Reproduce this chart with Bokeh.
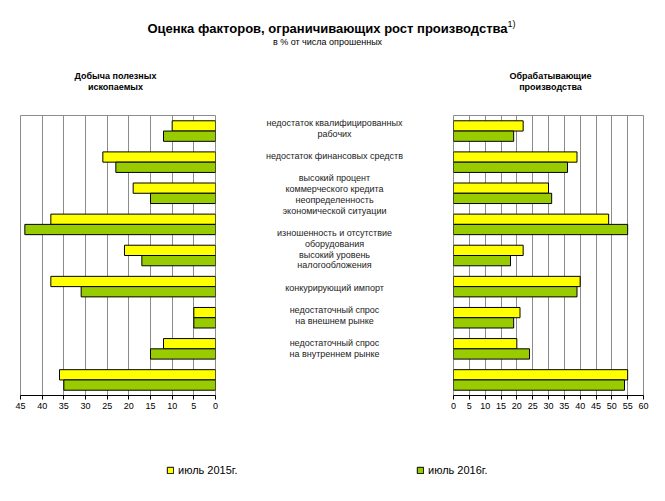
from bokeh.plotting import figure
from bokeh.layouts import column, row
from bokeh.models import Range1d, FixedTicker, Legend, LegendItem, ColumnDataSource
from bokeh.core.properties import value
from bokeh.embed import file_html
from bokeh.resources import INLINE

# ---------------- data ----------------
groups = list(range(9))
mining_2015 = [10, 26, 19, 38, 21, 38, 5, 12, 36]
mining_2016 = [12, 23, 15, 44, 17, 31, 5, 15, 35]
manuf_2015 = [22, 39, 30, 49, 22, 40, 21, 20, 55]
manuf_2016 = [19, 36, 31, 55, 18, 39, 19, 24, 54]
series_names = ["июль 2015г.", "июль 2016г."]
factor_lines = [
    "недостаток квалифицированных", "рабочих",
    "недостаток финансовых средств",
    "высокий процент", "коммерческого кредита",
    "неопределенность", "экономической ситуации",
    "изношенность и отсутствие", "оборудования",
    "высокий уровень", "налогообложения",
    "конкурирующий импорт",
    "недостаточный спрос", "на внешнем рынке",
    "недостаточный спрос", "на внутреннем рынке",
]
left_ticks = list(range(0, 50, 5))
right_ticks = list(range(0, 65, 5))
title_text = "Оценка факторов, ограничивающих рост производства"
subtitle_text = "в % от числа опрошенных"
left_header = ["Добыча полезных", "ископаемых"]
right_header = ["Обрабатывающие", "производства"]

# ---------------- styling ----------------
FONT = "Liberation Sans"
YELLOW = "#FFFF00"
GREEN = "#99CC00"
GRID = "#8c8c8c"
BAR_H = 0.33

# label line vertical positions (page px) -> layout only
label_px = [122.7, 133.3, 155, 177.3, 188.3, 199, 210, 232, 243.3, 254, 264.7,
            287.3, 309.3, 320.3, 342.3, 353.3]
FRAME_TOP = 115.0
FRAME_H = 280.0
GROUP_PX = FRAME_H / 9.0

yr = Range1d(9, 0)
ROW_H = 307
TOP_B = 2
BOT_B = ROW_H - TOP_B - FRAME_H


def bar_fig(width, xr, ticks, bl, br, v15, v16):
    p = figure(width=width, height=ROW_H, x_range=xr, y_range=yr,
               output_backend="svg", toolbar_location=None,
               min_border_left=bl, min_border_right=br,
               min_border_top=TOP_B, min_border_bottom=int(BOT_B))
    p.yaxis.visible = False
    p.ygrid.visible = False
    p.xgrid.ticker = FixedTicker(ticks=ticks)
    p.xgrid.grid_line_color = GRID
    p.xgrid.grid_line_width = 1
    p.xaxis.ticker = FixedTicker(ticks=ticks)
    p.xaxis.minor_tick_line_color = None
    p.xaxis.major_tick_in = 0
    p.xaxis.major_tick_out = 4
    p.xaxis.axis_line_color = "black"
    p.xaxis.major_tick_line_color = "black"
    p.xaxis.major_label_text_font = FONT
    p.xaxis.major_label_text_font_size = "9px"
    p.xaxis.major_label_text_color = "black"
    p.xaxis.major_label_standoff = 3
    p.outline_line_color = GRID
    p.background_fill_color = "white"
    p.border_fill_color = "white"
    src = ColumnDataSource(dict(
        y15=[g + 0.5 - BAR_H / 2 for g in groups],
        y16=[g + 0.5 + BAR_H / 2 for g in groups],
        v15=v15, v16=v16))
    p.hbar(y="y15", right="v15", left=0, height=BAR_H, source=src,
           fill_color=YELLOW, line_color="black", line_width=1)
    p.hbar(y="y16", right="v16", left=0, height=BAR_H, source=src,
           fill_color=GREEN, line_color="black", line_width=1)
    return p


left = bar_fig(225, Range1d(45, 0), left_ticks, 20, 10, mining_2015, mining_2016)
right = bar_fig(214, Range1d(0, 60), right_ticks, 10, 14, manuf_2015, manuf_2016)

# middle labels
mid = figure(width=218, height=ROW_H, x_range=Range1d(0, 218), y_range=yr,
             output_backend="svg", toolbar_location=None,
             min_border_left=0, min_border_right=0,
             min_border_top=TOP_B, min_border_bottom=int(BOT_B))
mid.axis.visible = False
mid.grid.visible = False
mid.outline_line_color = None
mid.text(x=[109] * len(factor_lines),
         y=[(py - FRAME_TOP) / GROUP_PX for py in label_px],
         text=factor_lines, text_align="center", text_baseline="middle",
         text_font=value(FONT), text_font_size="9px", text_color="#222222")

# header (page coordinates)
header = figure(width=657, height=113, x_range=Range1d(0, 657), y_range=Range1d(113, 0),
                output_backend="svg", toolbar_location=None,
                min_border=0)
header.axis.visible = False
header.grid.visible = False
header.outline_line_color = None
header.text(x=[327], y=[28], text=[title_text], text_align="center",
            text_baseline="middle", text_font=value(FONT), text_font_size="13px",
            text_font_style="bold", text_color="black")
header.text(x=[507], y=[23], text=["1)"], text_align="left",
            text_baseline="middle", text_font=value(FONT), text_font_size="9px",
            text_color="black")
header.text(x=[327], y=[41], text=[subtitle_text], text_align="center",
            text_baseline="middle", text_font=value(FONT), text_font_size="9px",
            text_color="black")
header.text(x=[115, 115], y=[75, 86], text=left_header, text_align="center",
            text_baseline="middle", text_font=value(FONT), text_font_size="9px",
            text_font_style="bold", text_color="black")
header.text(x=[550, 550], y=[75, 86], text=right_header, text_align="center",
            text_baseline="middle", text_font=value(FONT), text_font_size="9px",
            text_font_style="bold", text_color="black")

# footer with legend
footer = figure(width=657, height=73, x_range=Range1d(0, 1), y_range=Range1d(0, 1),
                output_backend="svg", toolbar_location=None, min_border=0)
footer.axis.visible = False
footer.grid.visible = False
footer.outline_line_color = None
r15 = footer.rect(x=[-10], y=[-10], width=1, height=1, fill_color=YELLOW, line_color="black")
r16 = footer.rect(x=[-10], y=[-10], width=1, height=1, fill_color=GREEN, line_color="black")
for r, name, loc in [(r15, series_names[0], (166, 17)), (r16, series_names[1], (416, 17))]:
    lg = Legend(items=[LegendItem(label=name, renderers=[r])], location=loc,
                glyph_width=8, glyph_height=8, label_height=10, label_standoff=4,
                padding=0, margin=0, spacing=0, border_line_color=None,
                background_fill_alpha=0, label_text_font=FONT,
                label_text_font_size="11px", label_text_color="black")
    footer.add_layout(lg)

layout = column(header, row(left, mid, right), footer)
open("out.html", "w").write(file_html(layout, INLINE))
